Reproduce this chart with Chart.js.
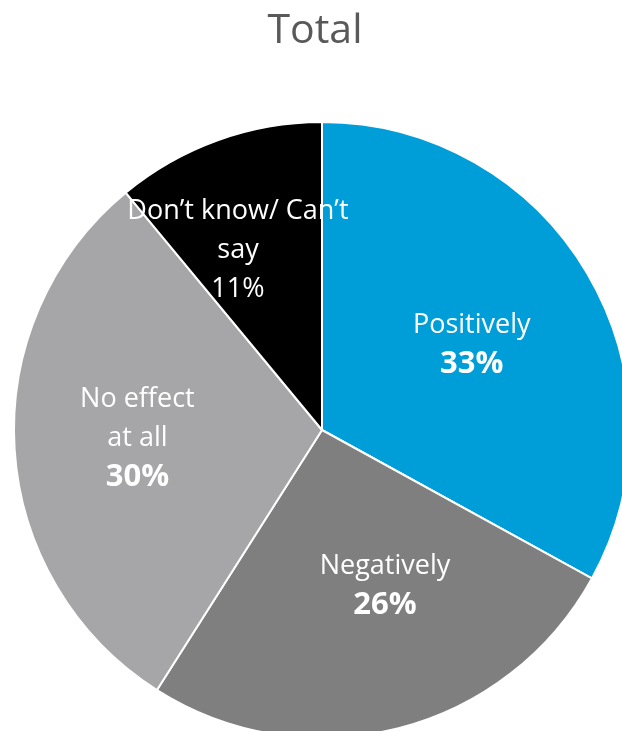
<!DOCTYPE html>
<html>
<head>
<meta charset="utf-8">
<script src="https://cdn.jsdelivr.net/npm/chart.js@4.4.1/dist/chart.umd.min.js"></script>
<style>
  html, body { margin: 0; padding: 0; background: #ffffff; overflow: hidden; width: 622px; height: 731px; }
  #pie { position: absolute; left: 0; top: 0; width: 640px; height: 760px; }
</style>
</head>
<body>
<canvas id="pie" width="640" height="760"></canvas>
<script>
// Survey answers, share of respondents (%)
const categories = ['Positively', 'Negatively', 'No effect at all', 'Don\u2019t know/ Can\u2019t say'];
const shares = [33, 26, 30, 11];
// How each category name is broken over lines inside its slice
const labelLines = [['Positively'], ['Negatively'], ['No effect', 'at all'], ['Don\u2019t know/ Can\u2019t', 'say']];
const boldPercent = [true, true, true, false];
const sliceColors = ['#009ed9', '#7f7f7f', '#a6a6a8', '#000000'];

// Where each label block sits: fraction along the slice's sweep and of the radius
const labelSweepFrac = [0.507, 0.419, 0.51, 0.366];
const labelRadiusFrac = [0.56, 0.546, 0.60, 0.643];

const FONT = '"Open Sans", "DejaVu Sans", sans-serif';

const titlePlugin = {
  id: 'pageTitle',
  afterDraw(chart) {
    const ctx = chart.ctx;
    ctx.save();
    ctx.font = '41px ' + FONT;
    ctx.fillStyle = '#595959';
    ctx.textAlign = 'center';
    ctx.textBaseline = 'alphabetic';
    ctx.fillText('Total', 315, 43);
    ctx.restore();
  }
};

const sliceLabels = {
  id: 'sliceLabels',
  afterDatasetsDraw(chart) {
    const ctx = chart.ctx;
    const meta = chart.getDatasetMeta(0);
    const lineHeight = 39;
    meta.data.forEach((arc, i) => {
      const p = arc.getProps(['x', 'y', 'startAngle', 'endAngle', 'outerRadius'], true);
      const a = p.startAngle + (p.endAngle - p.startAngle) * labelSweepFrac[i];
      const r = p.outerRadius * labelRadiusFrac[i];
      const cx = p.x + Math.cos(a) * r;
      const cy = p.y + Math.sin(a) * r;
      const lines = labelLines[i].map(t => ({ text: t, font: '27px ' + FONT }));
      lines.push({
        text: shares[i] + '%',
        font: boldPercent[i] ? 'bold 31px ' + FONT : '27px ' + FONT
      });
      ctx.save();
      ctx.fillStyle = '#ffffff';
      ctx.textAlign = 'center';
      ctx.textBaseline = 'middle';
      lines.forEach((ln, k) => {
        ctx.font = ln.font;
        ctx.fillText(ln.text, cx, cy + (k - (lines.length - 1) / 2) * lineHeight);
      });
      ctx.restore();
    });
  }
};

new Chart(document.getElementById('pie'), {
  type: 'pie',
  data: {
    labels: categories,
    datasets: [{
      data: shares,
      backgroundColor: sliceColors,
      borderColor: '#ffffff',
      borderWidth: 2
    }]
  },
  options: {
    responsive: false,
    animation: false,
    events: [],
    layout: { padding: { left: 13, top: 121, right: 9, bottom: 21 } },
    plugins: {
      legend: { display: false },
      tooltip: { enabled: false },
      title: { display: false }
    }
  },
  plugins: [sliceLabels, titlePlugin]
});
</script>
</body>
</html>
